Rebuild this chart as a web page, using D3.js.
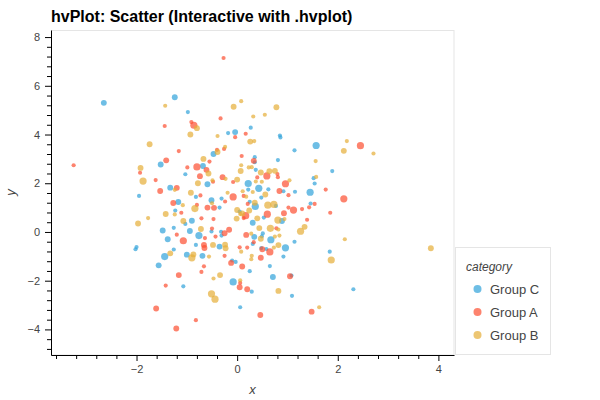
<!DOCTYPE html>
<html>
<head>
<meta charset="utf-8">
<script src="https://cdn.jsdelivr.net/npm/d3@7"></script>
<style>
  body { margin: 0; background: #fff; }
  text { font-family: "Liberation Sans", Arial, Helvetica, sans-serif; }
</style>
</head>
<body>
<div class="chart"></div>
<script>
// [x, y, size class]
const groupC = [
  [-2.65,5.30,2],[-1.24,5.53,2],[-0.98,4.92,1],[0.27,4.28,1],[-0.18,4.06,1],[-0.04,4.10,2],
  [0.85,3.96,1],[0.86,3.88,1],[1.57,3.55,3],[1.14,3.35,1],[-0.47,3.20,2],[-1.52,2.77,2],
  [0.35,3.07,1],[0.35,2.86,1],[0.81,2.95,1],[-0.68,2.71,2],[-1.03,2.37,1],[-0.59,1.96,2],
  [-1.33,1.82,2],[-1.95,1.48,1],[0.37,2.55,1],[0.22,1.99,3],[1.89,2.50,1],[1.52,2.21,1],
  [1.54,1.99,1],[1.45,1.63,3],[1.15,1.65,1],[0.92,1.67,1],[0.62,1.75,1],[0.43,1.79,3],
  [0.22,1.74,1],[0.48,1.41,1],[-0.31,1.37,1],[-0.51,1.30,2],[-1.17,1.23,2],[-0.82,1.44,1],
  [-0.35,1.00,1],[0.36,1.05,3],[0.25,1.24,1],[0.77,1.07,1],[1.46,1.17,1],[-1.23,0.88,1],
  [0.05,0.84,1],[0.53,0.59,1],[0.31,0.38,2],[0.89,0.45,2],[-0.90,0.46,2],[-1.03,0.33,1],
  [-1.26,0.17,1],[-1.48,0.06,2],[-0.94,0.04,2],[-0.76,-0.15,3],[-0.51,0.02,1],[-0.32,0.01,1],
  [-0.31,-0.15,1],[0.34,-0.20,2],[0.51,-0.06,1],[0.49,-0.18,1],[0.67,-0.32,3],[1.14,-0.40,1],
  [0.31,-0.49,1],[-1.38,-0.30,2],[-2.00,-0.62,1],[-2.02,-0.71,1],[-1.26,-0.72,1],[-1.44,-1.01,3],
  [-1.00,-0.93,2],[-0.82,-0.53,1],[-0.69,-0.98,2],[-0.35,-0.60,2],[0.48,-0.66,1],[0.58,-0.70,1],
  [0.96,-0.65,3],[0.92,-1.01,1],[1.84,-0.81,1],[-0.10,-1.17,1],[-0.03,-1.23,1],[-1.56,-1.37,2],
  [0.65,-1.40,1],[0.25,-1.61,1],[0.71,-1.85,2],[1.08,-1.79,1],[-1.07,-2.23,1],[-0.08,-2.05,3],
  [0.29,-2.45,1],[1.09,-2.62,1],[2.31,-2.35,1],[0.06,-3.09,1]
]

const groupA = [
  [-0.27,7.14,1],[-0.33,4.66,1],[-0.91,4.51,1],[-0.86,4.38,3],[-1.44,4.35,1],[0.17,4.03,1],
  [-0.04,3.89,1],[2.45,3.54,3],[-1.16,3.32,1],[-0.26,3.41,1],[-0.40,3.37,1],[-1.41,2.94,2],
  [0.09,3.12,1],[0.33,2.92,2],[-0.55,2.89,1],[-1.93,2.43,1],[-0.99,2.65,1],[-0.80,2.67,3],
  [-0.61,2.55,2],[-0.74,2.29,2],[-0.29,2.25,2],[-0.48,2.06,1],[-1.62,2.13,1],[-1.53,1.68,2],
  [-1.20,1.81,2],[-0.08,2.05,1],[0.59,2.30,3],[0.40,2.24,1],[0.80,2.38,1],[0.81,2.25,1],
  [0.96,1.98,3],[1.76,1.74,1],[0.84,1.68,2],[1.02,1.51,1],[2.12,1.36,3],[-0.08,1.44,3],
  [-0.73,1.50,1],[-0.24,1.25,1],[-1.27,1.19,2],[0.13,1.48,1],[0.21,1.15,1],[-0.80,1.11,1],
  [-1.11,0.79,1],[-0.59,1.00,2],[-0.46,0.99,2],[1.12,0.90,3],[1.02,1.00,1],[1.29,0.94,1],
  [1.43,1.01,1],[1.54,1.15,1],[1.85,0.79,1],[0.93,0.77,2],[0.60,0.73,3],[0.17,0.67,3],
  [0.13,0.57,1],[1.39,0.50,1],[-0.71,0.56,1],[-0.47,0.53,1],[-0.50,0.14,1],[-0.16,0.09,2],
  [-0.25,-0.05,2],[-0.64,-0.25,1],[-0.43,-0.19,1],[-1.20,-0.11,1],[-1.07,-0.36,3],[0.78,0.15,1],
  [0.18,-0.12,2],[0.33,-0.42,1],[0.20,-0.64,1],[0.05,-0.63,1],[0.50,-0.71,2],[0.65,-0.82,3],
  [-0.66,-0.53,2],[-0.65,-0.66,2],[-0.12,-1.27,2],[0.47,-1.06,2],[-0.25,-0.98,1],[0.10,-1.42,2],
  [-1.16,-1.77,2],[-0.71,-1.64,1],[-0.66,-1.41,1],[1.05,-1.82,2],[-1.42,-2.20,1],[0.06,-2.09,1],
  [0.05,-2.27,2],[0.20,-2.35,2],[-1.61,-3.14,2],[0.46,-3.41,2],[1.48,-3.27,2],[-0.82,-3.62,1],
  [-1.21,-3.96,2],[-3.25,2.74,1]
]

const groupB = [
  [-1.43,5.18,1],[0.08,5.37,1],[-0.07,5.14,2],[0.78,5.12,2],[0.32,4.74,1],[0.55,4.81,1],
  [-0.80,4.26,2],[-0.93,4.00,2],[-0.39,3.94,1],[-1.74,3.60,2],[0.26,3.71,2],[0.34,3.73,1],
  [2.18,3.73,1],[2.12,3.33,2],[2.71,3.22,1],[-0.24,3.49,1],[-0.39,3.28,2],[-0.67,3.00,2],
  [1.56,2.91,1],[0.08,2.74,1],[0.07,2.50,2],[-1.92,2.63,2],[-1.87,2.09,3],[-0.57,2.40,2],
  [-0.49,2.12,1],[-0.78,2.00,2],[-0.23,2.18,1],[0.00,2.15,2],[0.23,2.65,1],[0.29,2.66,1],
  [0.47,2.44,2],[0.64,2.49,2],[0.75,2.51,2],[0.37,2.07,1],[0.49,2.06,1],[1.04,2.12,1],
  [1.57,2.26,1],[-1.24,1.73,1],[0.31,1.64,1],[0.11,1.67,1],[0.56,1.54,2],[-0.92,1.61,2],
  [-0.19,1.61,1],[0.18,1.45,1],[-1.08,1.10,1],[-0.84,0.96,3],[-0.50,1.18,1],[0.35,1.20,2],
  [0.61,1.10,3],[0.73,1.13,3],[-1.42,0.74,2],[-1.24,0.72,1],[-1.77,0.57,1],[-1.97,0.35,2],
  [0.00,0.90,2],[0.24,0.88,2],[0.10,0.76,2],[0.06,0.74,1],[-0.01,0.55,2],[0.40,0.56,2],
  [0.81,0.49,3],[0.94,0.53,1],[-1.07,0.45,2],[-0.72,0.12,2],[0.44,0.16,2],[0.66,0.15,3],
  [0.82,0.10,1],[1.26,0.03,3],[1.34,0.21,2],[0.28,-0.07,1],[0.47,-0.28,2],[0.84,-0.15,1],
  [0.75,-0.19,1],[2.14,-0.30,1],[3.85,-0.67,2],[-1.33,-0.88,2],[-0.87,-0.92,2],[-0.90,-1.06,3],
  [-0.56,-1.01,1],[-0.48,-0.53,2],[-0.24,-0.52,2],[-0.23,-0.67,2],[0.08,-0.81,1],[0.73,-0.64,1],
  [0.82,-0.54,2],[0.29,-0.98,1],[0.28,-1.12,1],[1.87,-1.15,3],[-0.34,-1.77,2],[-0.47,-1.91,1],
  [0.06,-1.98,1],[0.82,-2.42,2],[-0.51,-2.54,3],[-0.44,-2.76,3],[1.63,-3.09,1]
]

const categories = ["Group C", "Group A", "Group B"]
const palette = ["#30a2da", "#fc4f30", "#e5ae38"]

const xMajorTicks = [-2, 0, 2, 4]
const yMajorTicks = [-4, -2, 0, 2, 4, 6, 8]

async function drawScatter() {

    const series = [groupC, groupA, groupB]

    const points = series.flatMap((g, i) => g.map(d => ({
        x: d[0],
        y: d[1],
        size: d[2],
        category: categories[i]
    })))

    let dimensions = {
        width: 600,
        height: 400,
        margin: {
            top: 30,
            right: 146,
            bottom: 45,
            left: 51,
        },
    }

    dimensions.boundedWidth = dimensions.width - dimensions.margin.left - dimensions.margin.right
    dimensions.boundedHeight = dimensions.height - dimensions.margin.top - dimensions.margin.bottom

    const xScale = d3.scaleLinear()
        .domain([-3.70, 4.31])
        .range([0, dimensions.boundedWidth])

    const yScale = d3.scaleLinear()
        .domain([-5.05, 8.29])
        .range([dimensions.boundedHeight, 0])

    const rScale = d3.scaleSqrt()
        .domain([0, 3])
        .range([0, 3.6])

    const colorScale = d3.scaleOrdinal()
        .domain(categories)
        .range(palette)

    const wrapper = d3.select(".chart")
        .append("svg")
        .attr("width", dimensions.width)
        .attr("height", dimensions.height)

    wrapper.append("text")
        .attr("x", dimensions.margin.left)
        .attr("y", 22)
        .style("font-size", "16px")
        .style("font-weight", "bold")
        .style("fill", "#000")
        .text("hvPlot: Scatter (Interactive with .hvplot)")

    const bounds = wrapper
        .append("g")
        .attr("transform", `translate(${dimensions.margin.left}, ${dimensions.margin.top})`)

    // plot outline
    bounds.append("rect")
        .attr("x", 0.5)
        .attr("y", 0.5)
        .attr("width", dimensions.boundedWidth - 0.5)
        .attr("height", dimensions.boundedHeight - 0.5)
        .attr("fill", "none")
        .attr("stroke", "#e5e5e5")

    bounds.append("g")
        .selectAll("circle")
        .data(points)
        .join("circle")
        .attr("cx", d => xScale(d.x))
        .attr("cy", d => yScale(d.y))
        .attr("r", d => rScale(d.size))
        .attr("fill", d => colorScale(d.category))
        .attr("fill-opacity", 0.7)

    const minorX = d3.range(-3.6, 4.01, 0.4).map(v => +v.toFixed(1)).filter(v => !xMajorTicks.includes(v))
    const minorY = d3.range(-4.8, 8.01, 0.4).map(v => +v.toFixed(1)).filter(v => !yMajorTicks.includes(v))

    const xAxisG = bounds.append("g")
        .attr("transform", `translate(0, ${dimensions.boundedHeight})`)

    xAxisG.append("g")
        .call(d3.axisBottom(xScale).tickValues(minorX).tickSize(4).tickSizeOuter(0).tickFormat(""))
        .call(g => g.select(".domain").remove())

    xAxisG.append("g")
        .call(d3.axisBottom(xScale).tickValues(xMajorTicks).tickSize(6).tickSizeOuter(0).tickPadding(4))

    const yAxisG = bounds.append("g")

    yAxisG.append("g")
        .call(d3.axisLeft(yScale).tickValues(minorY).tickSize(4).tickSizeOuter(0).tickFormat(""))
        .call(g => g.select(".domain").remove())

    yAxisG.append("g")
        .call(d3.axisLeft(yScale).tickValues(yMajorTicks).tickSize(6).tickSizeOuter(0).tickPadding(5))

    wrapper.selectAll(".tick text")
        .style("font-family", "'Liberation Sans', Arial, sans-serif")
        .style("font-size", "11px")
        .style("fill", "#444")

    wrapper.selectAll(".domain, .tick line")
        .attr("stroke", "#000")

    bounds.append("text")
        .attr("x", dimensions.boundedWidth / 2)
        .attr("y", dimensions.boundedHeight + 39)
        .attr("text-anchor", "middle")
        .style("font-size", "13px")
        .style("font-style", "italic")
        .style("fill", "#444")
        .text("x")

    bounds.append("text")
        .attr("transform", `translate(${-36}, ${dimensions.boundedHeight / 2}) rotate(-90)`)
        .attr("text-anchor", "middle")
        .style("font-size", "13px")
        .style("font-style", "italic")
        .style("fill", "#444")
        .text("y")

    // legend
    const legend = wrapper.append("g")
        .attr("transform", "translate(455, 247)")

    legend.append("rect")
        .attr("x", 0.5)
        .attr("y", 0.5)
        .attr("width", 95)
        .attr("height", 107)
        .attr("fill", "#fff")
        .attr("stroke", "#e5e5e5")

    legend.append("text")
        .attr("x", 11)
        .attr("y", 24)
        .style("font-size", "12px")
        .style("font-style", "italic")
        .style("fill", "#444")
        .text("category")

    const items = legend.selectAll(".item")
        .data(categories)
        .join("g")
        .attr("class", "item")
        .attr("transform", (d, i) => `translate(0, ${42 + i * 23})`)

    items.append("circle")
        .attr("cx", 22.5)
        .attr("cy", 0)
        .attr("r", 4)
        .attr("fill", d => colorScale(d))
        .attr("fill-opacity", 0.7)

    items.append("text")
        .attr("x", 35)
        .attr("y", 4.5)
        .style("font-size", "13px")
        .style("fill", "#444")
        .text(d => d)
}

drawScatter()
</script>
</body>
</html>
